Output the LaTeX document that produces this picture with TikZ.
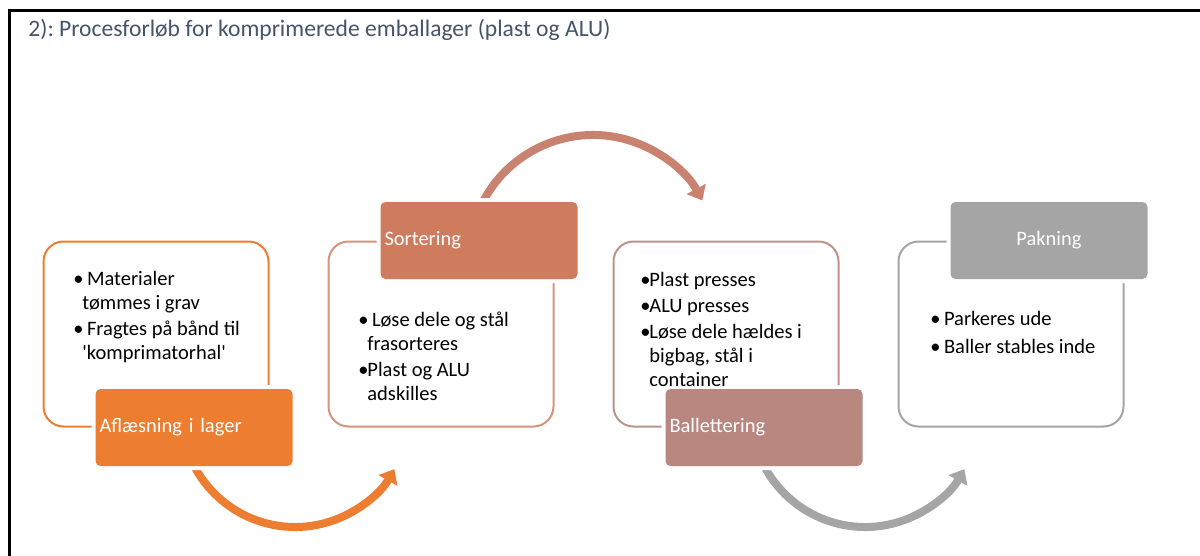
\documentclass[tikz,border=0pt]{standalone}
\usepackage{fontspec}
\newfontfamily\stepfont{Carlito}
\usepackage{tikz}
\usepackage{xcolor}
\usetikzlibrary{arrows.meta,positioning}
\definecolor{title-grey}{HTML}{44546A}
\definecolor{unload-orange}{HTML}{ED7D31}
\definecolor{sort-brown}{HTML}{CF7C5E}
\definecolor{sort-line}{HTML}{D4957D}
\definecolor{sort-arrow}{HTML}{C98170}
\definecolor{bale-rose}{HTML}{B8877F}
\definecolor{bale-line}{HTML}{BC948C}
\definecolor{pack-grey}{HTML}{A5A5A5}
\newcommand{\blt}{\makebox[4.5pt][l]{\textbullet}}
\frenchspacing
\tikzset{
    step-box/.style = {draw, fill=white, line width=1pt, rectangle, rounded corners=10pt, minimum width=112.5pt, minimum height=92.5pt},
    step-title/.style = {rectangle, rounded corners=2.5pt, text=white, font=\stepfont\fontsize{10.25}{12}\selectfont, minimum width=98.5pt, minimum height=38.5pt, text width=94.5pt, inner xsep=2pt, align=left, preaction={draw=white, line width=4pt}},
    step-text/.style = {anchor=north west, inner sep=0pt, align=left, font=\stepfont\fontsize{10.25}{12}\selectfont},
    flow-arrow/.style = {line width=4pt, -{Triangle[width=10.5pt,length=6.5pt]}},
}

\begin{document}
\begin{tikzpicture}[x=0.5pt, y=-0.5pt]
\useasboundingbox (0,0) rectangle (1200,556);
\draw[line width=1.5pt] (9,556) -- (9,11) -- (1200,11);
\node[anchor=west, inner sep=0pt, text=title-grey, font=\stepfont\fontsize{11.8}{14}\selectfont] (title) at (28,30) {2): Procesforløb for komprimerede emballager (plast og ALU)};

% arrows between the steps
\coordinate (a1) at (188,452);
\coordinate (a2) at (476.5,216.6);
\coordinate (a3) at (758,452);
\draw[flow-arrow, unload-orange] (a1) arc[start angle=160, end angle=29.5, radius=114];
\draw[flow-arrow, sort-arrow] (a2) arc[start angle=200, end angle=331.8, radius=124];
\draw[flow-arrow, pack-grey] (a3) arc[start angle=160, end angle=29.5, radius=114];

% step boxes
\node[step-box, draw=unload-orange] (box1) at (156,334) {};
\node[step-box, draw=sort-line] (box2) at (441,334) {};
\node[step-box, draw=bale-line] (box3) at (726,334) {};
\node[step-box, draw=pack-grey] (box4) at (1011,334) {};

\node[step-title, fill=unload-orange] (lab1) at ([xshift=19pt]box1.south) {Aflæsning i lager};
\node[step-title, fill=sort-brown] (lab2) at ([xshift=19pt]box2.north) {Sortering};
\node[step-title, fill=bale-rose] (lab3) at ([xshift=19pt]box3.south) {Ballettering};
\node[step-title, fill=pack-grey, align=center] (lab4) at ([xshift=19pt]box4.north) {Pakning};

\node[step-text] (txt1) at (73,271) {\blt\ Materialer\\ \hspace*{4.5pt}tømmes i grav\\[1pt] \blt\ Fragtes på bånd til\\ \hspace*{4.5pt}'komprimatorhal'};
\node[step-text] (txt2) at (358,312) {\blt\ Løse dele og stål\\ \hspace*{4.5pt}frasorteres\\[1pt] \blt Plast og ALU\\ \hspace*{4.5pt}adskilles};
\node[step-text] (txt3) at (640,272) {\blt Plast presses\\[1pt] \blt ALU presses\\[1pt] \blt Løse dele hældes i\\ \hspace*{4.5pt}bigbag, stål i\\ \hspace*{4.5pt}container};
\node[step-text] (txt4) at (930,311) {\blt\ Parkeres ude\\[2pt] \blt\ Baller stables inde};
\end{tikzpicture}
\end{document}
